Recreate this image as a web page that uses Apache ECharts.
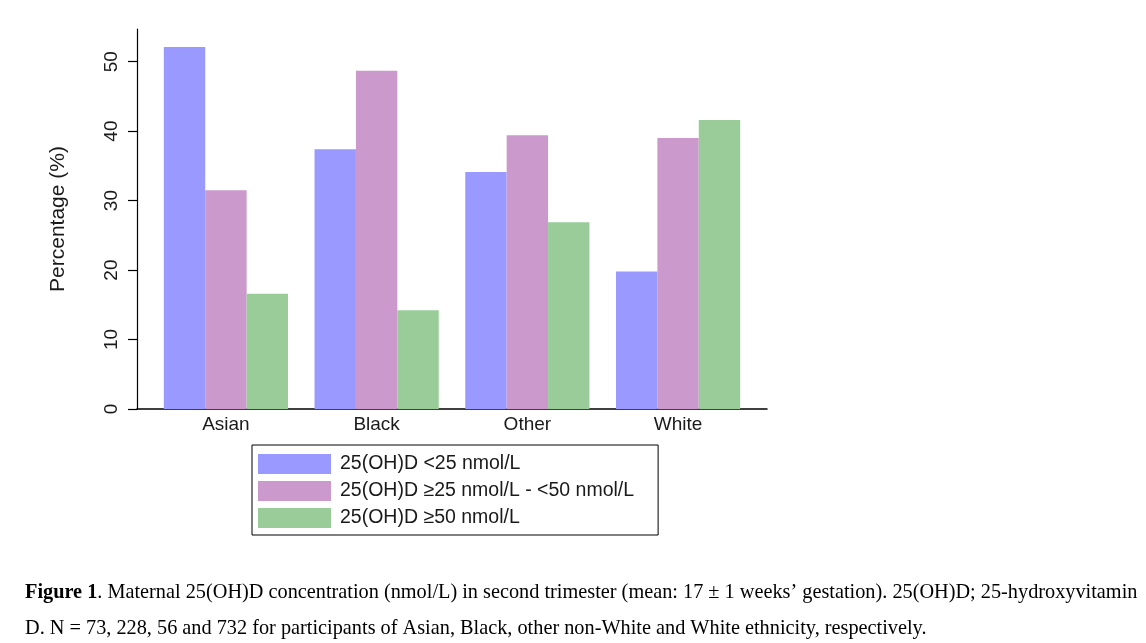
<!DOCTYPE html>
<html>
<head>
<meta charset="utf-8">
<style>
  html, body { margin: 0; padding: 0; background: #fff; }
  #chart { width: 1146px; height: 643px; }
</style>
<script src="https://cdn.jsdelivr.net/npm/echarts@6/dist/echarts.min.js"></script>
</head>
<body>
<div id="chart"></div>
<script>
const categories = ['Asian', 'Black', 'Other', 'White'];
const seriesNames = ['25(OH)D <25 nmol/L', '25(OH)D \u226525 nmol/L - <50 nmol/L', '25(OH)D \u226550 nmol/L'];
const below25 = [52.1, 37.4, 34.1, 19.8];
const from25to50 = [31.5, 48.7, 39.4, 39.0];
const above50 = [16.6, 14.2, 26.9, 41.6];
const yTicks = [0, 10, 20, 30, 40, 50];
const colors = ['#9999ff', '#cc99cc', '#99cc99'];
const caption1 = '. Maternal 25(OH)D concentration (nmol/L) in second trimester (mean: 17 \u00b1 1 weeks\u2019 gestation). 25(OH)D; 25-hydroxyvitamin';
const caption2 = 'D. N = 73, 228, 56 and 732 for participants of Asian, Black, other non-White and White ethnicity, respectively.';

const allValues = [below25, from25to50, above50];
const xPositions = categories.map((c, i) => i + 1);

const chart = echarts.init(document.getElementById('chart'), null, { renderer: 'canvas' });
const axisFont = { fontFamily: 'Liberation Sans, Arial, sans-serif', fontSize: 19, color: '#1a1a1a' };

chart.setOption({
  animation: false,
  backgroundColor: '#fff',
  title: {
    left: 25,
    top: 575,
    padding: 0,
    text: '{b|Figure 1}{n|' + caption1 + '}\n{n|' + caption2 + '}',
    textStyle: {
      fontWeight: 'normal',
      rich: {
        b: { fontFamily: 'Liberation Serif, Times New Roman, serif', fontSize: 20.3, fontWeight: 'bold', color: '#000', lineHeight: 36 },
        n: { fontFamily: 'Liberation Serif, Times New Roman, serif', fontSize: 20.3, fontWeight: 'normal', color: '#000', lineHeight: 36 }
      }
    }
  },
  grid: { left: 137, right: 379, top: 29, bottom: 234, containLabel: false },
  legend: {
    orient: 'vertical',
    left: 252,
    top: 445,
    itemWidth: 73,
    itemHeight: 20,
    itemGap: 7,
    padding: [9, 24, 7, 6],
    borderColor: '#000',
    borderWidth: 1,
    icon: 'rect',
    selectedMode: false,
    textStyle: { fontFamily: 'Liberation Sans, Arial, sans-serif', fontSize: 19.5, color: '#1a1a1a', padding: [0, 0, 0, 4] },
    data: seriesNames
  },
  xAxis: {
    type: 'value',
    min: 0.41,
    max: 4.59,
    splitLine: { show: false },
    axisLine: { show: true, lineStyle: { color: '#000', width: 1.5 } },
    axisTick: { show: false },
    axisLabel: Object.assign({
      customValues: xPositions,
      formatter: v => categories[Math.round(v) - 1] || '',
      margin: 6
    }, axisFont)
  },
  yAxis: {
    type: 'value',
    min: 0,
    max: 54.7,
    name: 'Percentage (%)',
    nameLocation: 'middle',
    nameGap: 68,
    nameTextStyle: { fontFamily: 'Liberation Sans, Arial, sans-serif', fontSize: 21, color: '#1a1a1a' },
    splitLine: { show: false },
    axisLine: { show: true, lineStyle: { color: '#000', width: 1.2 } },
    axisTick: { show: true, length: 9, customValues: yTicks, lineStyle: { color: '#000', width: 1.2 } },
    axisLabel: Object.assign({ customValues: yTicks, rotate: 90, margin: 16 }, axisFont)
  },
  series: seriesNames.map((name, s) => ({
    name: name,
    type: 'bar',
    barWidth: 41.4,
    barGap: '0%',
    itemStyle: { color: colors[s] },
    data: allValues[s].map((v, i) => [xPositions[i], v])
  }))
});
</script>
</body>
</html>
